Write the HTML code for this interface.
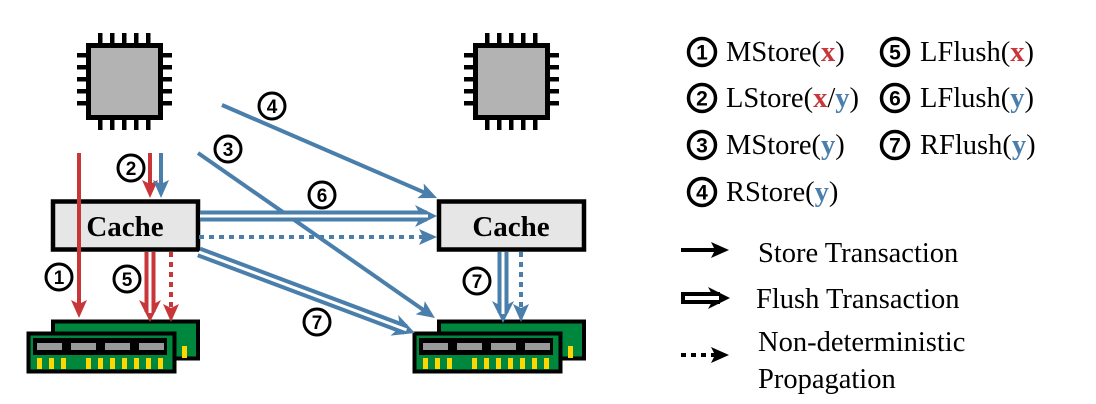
<!DOCTYPE html>
<html><head><meta charset="utf-8"><style>html,body{margin:0;padding:0;background:#fff}svg{display:block}</style></head>
<body>
<svg width="1096" height="404" viewBox="0 0 1096 404" xmlns="http://www.w3.org/2000/svg">
<defs>
<marker id="sb" markerUnits="userSpaceOnUse" viewBox="-8 -10 22 20" markerWidth="22" markerHeight="20" refX="0" refY="0" orient="auto"><path d="M12,0 L-6,-8 L-2,0 L-6,8 Z" fill="#4a7eab"/></marker>
<marker id="sr" markerUnits="userSpaceOnUse" viewBox="-8 -10 22 20" markerWidth="22" markerHeight="20" refX="0" refY="0" orient="auto"><path d="M12,0 L-6,-8 L-2,0 L-6,8 Z" fill="#c8363a"/></marker>
<marker id="sk" markerUnits="userSpaceOnUse" viewBox="-8 -10 22 20" markerWidth="22" markerHeight="20" refX="0" refY="0" orient="auto"><path d="M12,0 L-6,-8 L-2,0 L-6,8 Z" fill="#000"/></marker>
<marker id="fb" markerUnits="userSpaceOnUse" viewBox="-14 -12 26 24" markerWidth="26" markerHeight="24" refX="0" refY="0" orient="auto"><path d="M10,0 L-12,-11 L-6,0 L-12,11 Z" fill="#4a7eab"/></marker>
<marker id="fr" markerUnits="userSpaceOnUse" viewBox="-14 -12 26 24" markerWidth="26" markerHeight="24" refX="0" refY="0" orient="auto"><path d="M10,0 L-12,-11 L-6,0 L-12,11 Z" fill="#c8363a"/></marker>
<marker id="fk" markerUnits="userSpaceOnUse" viewBox="-14 -12 26 24" markerWidth="26" markerHeight="24" refX="0" refY="0" orient="auto"><path d="M10,0 L-12,-11 L-6,0 L-12,11 Z" fill="#000"/></marker>
<g id="cpu">
<g fill="#000">
<rect x="98" y="33" width="4.5" height="12"/><rect x="110" y="33" width="4.5" height="12"/><rect x="122" y="33" width="4.5" height="12"/><rect x="134" y="33" width="4.5" height="12"/><rect x="146" y="33" width="4.5" height="12"/>
<rect x="98" y="118" width="4.5" height="12"/><rect x="110" y="118" width="4.5" height="12"/><rect x="122" y="118" width="4.5" height="12"/><rect x="134" y="118" width="4.5" height="12"/><rect x="146" y="118" width="4.5" height="12"/>
<rect x="77" y="53" width="12" height="4.5"/><rect x="77" y="65" width="12" height="4.5"/><rect x="77" y="77" width="12" height="4.5"/><rect x="77" y="89" width="12" height="4.5"/><rect x="77" y="101" width="12" height="4.5"/>
<rect x="160" y="53" width="12" height="4.5"/><rect x="160" y="65" width="12" height="4.5"/><rect x="160" y="77" width="12" height="4.5"/><rect x="160" y="89" width="12" height="4.5"/><rect x="160" y="101" width="12" height="4.5"/>
</g>
<rect x="88.5" y="45.5" width="72" height="72" fill="#b3b3b3" stroke="#000" stroke-width="5"/>
</g>
<g id="ram">
<rect x="53" y="321.5" width="145" height="37" fill="#00873e" stroke="#000" stroke-width="4"/>
<rect x="182" y="346" width="5" height="12" fill="#ffd700"/>
<rect x="28.5" y="333.5" width="146" height="38" fill="#00873e" stroke="#000" stroke-width="4"/>
<rect x="33" y="338" width="134" height="17" fill="#000"/>
<rect x="37" y="343" width="25" height="7" fill="#999"/><rect x="71" y="343" width="25" height="7" fill="#999"/><rect x="105" y="343" width="25" height="7" fill="#999"/><rect x="139" y="343" width="25" height="7" fill="#999"/>
<g fill="#ffd700"><rect x="37" y="358" width="5" height="11"/><rect x="49" y="358" width="5" height="11"/><rect x="61" y="358" width="5" height="11"/><rect x="86" y="358" width="5" height="11"/><rect x="98" y="358" width="5" height="11"/><rect x="110" y="358" width="5" height="11"/><rect x="122" y="358" width="5" height="11"/><rect x="134" y="358" width="5" height="11"/><rect x="146" y="358" width="5" height="11"/><rect x="158" y="358" width="5" height="11"/></g>
</g>
</defs>
<use href="#cpu"/>
<use href="#cpu" transform="translate(387,0)"/>
<use href="#ram"/>
<use href="#ram" transform="translate(386,0)"/>
<rect x="53" y="201.5" width="145" height="48" fill="#e6e6e6" stroke="#000" stroke-width="4.5"/>
<rect x="439" y="201.5" width="145" height="48" fill="#e6e6e6" stroke="#000" stroke-width="4.5"/>
<g font-family="Liberation Serif, serif" font-weight="bold" font-size="29" text-anchor="middle">
<text x="125" y="236">Cache</text><text x="511" y="236">Cache</text>
</g>
<g stroke-width="4" fill="none">
<line x1="79" y1="153" x2="79" y2="306" stroke="#c8363a" marker-end="url(#sr)"/>
<line x1="150" y1="153" x2="150" y2="186" stroke="#c8363a" marker-end="url(#sr)"/>
<line x1="161" y1="153" x2="161" y2="186" stroke="#4a7eab" marker-end="url(#sb)"/>
<line x1="198" y1="153" x2="425.1" y2="311.1" stroke="#4a7eab" marker-end="url(#sb)"/>
<line x1="222" y1="105" x2="426" y2="193.2" stroke="#4a7eab" marker-end="url(#sb)"/>
<line x1="199" y1="237" x2="425" y2="237" stroke="#4a7eab" stroke-dasharray="5,5" marker-end="url(#sb)"/>
<line x1="171" y1="252" x2="171" y2="310" stroke="#c8363a" stroke-dasharray="5,5" marker-end="url(#sr)"/>
<line x1="521" y1="252" x2="521" y2="310" stroke="#4a7eab" stroke-dasharray="5,5" marker-end="url(#sb)"/>
</g>
<g fill="none">
<line x1="200" y1="216" x2="427" y2="216" stroke="#4a7eab" stroke-width="11" marker-end="url(#fb)"/>
<line x1="200" y1="216" x2="428" y2="216" stroke="#fff" stroke-width="3"/>
<line x1="199" y1="252" x2="405.6" y2="329.5" stroke="#4a7eab" stroke-width="11" marker-end="url(#fb)"/>
<line x1="199" y1="252" x2="406.5" y2="329.9" stroke="#fff" stroke-width="3"/>
<line x1="150" y1="252" x2="150" y2="312" stroke="#c8363a" stroke-width="11" marker-end="url(#fr)"/>
<line x1="150" y1="252" x2="150" y2="313" stroke="#fff" stroke-width="3"/>
<line x1="503" y1="252" x2="503" y2="313" stroke="#4a7eab" stroke-width="11" marker-end="url(#fb)"/>
<line x1="503" y1="252" x2="503" y2="314" stroke="#fff" stroke-width="3"/>
</g>
<g fill="#fff" stroke="#000" stroke-width="3">
<circle cx="59" cy="277" r="13"/><circle cx="131" cy="168" r="13"/><circle cx="127" cy="279" r="13"/><circle cx="228" cy="149" r="13"/><circle cx="272" cy="106" r="13"/><circle cx="322" cy="195" r="13"/><circle cx="317" cy="322" r="13"/><circle cx="477" cy="281" r="13"/>
</g>
<g fill="#fff" stroke="#000" stroke-width="3.5">
<circle cx="702" cy="52" r="13.5"/><circle cx="702" cy="98" r="13.5"/><circle cx="702" cy="145" r="13.5"/><circle cx="702" cy="192" r="13.5"/><circle cx="895" cy="52" r="13.5"/><circle cx="895" cy="98" r="13.5"/><circle cx="895" cy="145" r="13.5"/>
</g>
<g font-family="Liberation Sans, sans-serif" font-weight="bold" font-size="19" text-anchor="middle">
<text x="59" y="284">1</text><text x="131" y="175">2</text><text x="127" y="286">5</text><text x="228" y="156">3</text><text x="272" y="113">4</text><text x="322" y="202">6</text><text x="317" y="329">7</text><text x="477" y="288">7</text>
<g font-size="21"><text x="702" y="59.5">1</text><text x="702" y="105.5">2</text><text x="702" y="152.5">3</text><text x="702" y="199.5">4</text><text x="895" y="59.5">5</text><text x="895" y="105.5">6</text><text x="895" y="152.5">7</text></g>
</g>
<g font-family="Liberation Serif, serif" font-size="28.5" fill="#000">
<text x="726" y="61">MStore(<tspan fill="#c8363a" font-weight="bold">x</tspan>)</text>
<text x="726" y="107">LStore(<tspan fill="#c8363a" font-weight="bold">x</tspan>/<tspan fill="#4a7eab" font-weight="bold">y</tspan>)</text>
<text x="726" y="154">MStore(<tspan fill="#4a7eab" font-weight="bold">y</tspan>)</text>
<text x="726" y="201">RStore(<tspan fill="#4a7eab" font-weight="bold">y</tspan>)</text>
<text x="920" y="61">LFlush(<tspan fill="#c8363a" font-weight="bold">x</tspan>)</text>
<text x="920" y="107">LFlush(<tspan fill="#4a7eab" font-weight="bold">y</tspan>)</text>
<text x="920" y="154">RFlush(<tspan fill="#4a7eab" font-weight="bold">y</tspan>)</text>
<text x="758" y="262">Store Transaction</text>
<text x="756" y="308">Flush Transaction</text>
<text x="758" y="351">Non-deterministic</text>
<text x="758" y="388">Propagation</text>
</g>
<g fill="none">
<line x1="681" y1="250" x2="717" y2="250" stroke="#000" stroke-width="4" marker-end="url(#sk)"/>
<line x1="681" y1="298" x2="720" y2="298" stroke="#000" stroke-width="12" marker-end="url(#fk)"/>
<line x1="685" y1="298" x2="719" y2="298" stroke="#fff" stroke-width="4"/>
<line x1="681" y1="355" x2="717" y2="355" stroke="#000" stroke-width="4" stroke-dasharray="5,5" marker-end="url(#sk)"/>
</g>
</svg>
</body></html>
